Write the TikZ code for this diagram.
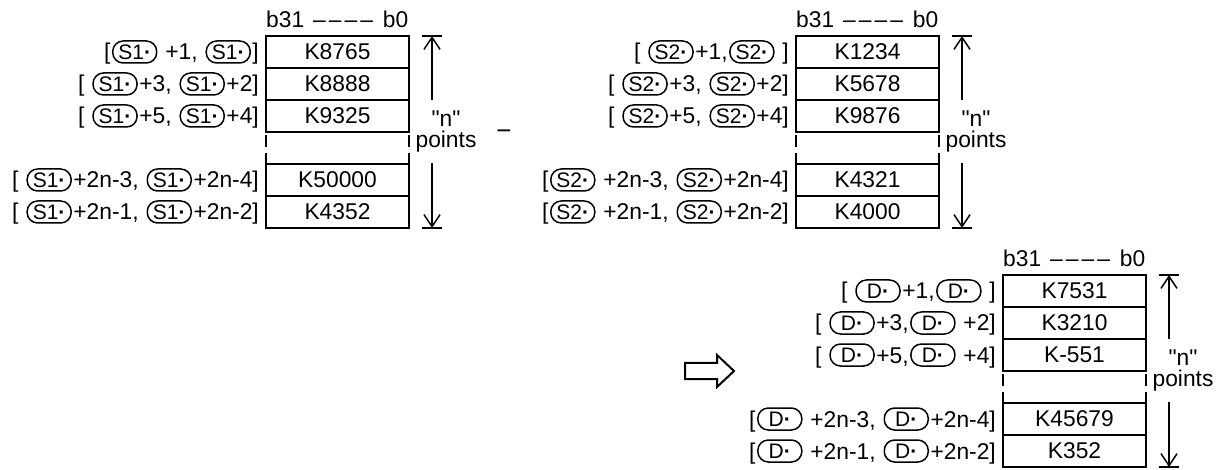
\documentclass[tikz,border=0pt]{standalone}
\usepackage{fontspec}
\setmainfont{Liberation Sans}
\newfontfamily\plainsans{Liberation Sans}
\usetikzlibrary{arrows.meta}
\tikzset{
  bigfont/.style={font=\fontsize{22.8}{26}\selectfont},
  cell/.style={draw, line width=1.6pt, minimum width=143pt, minimum height=32pt, inner sep=0pt, bigfont},
  lab/.style={anchor=base east, inner sep=0pt, bigfont},
  hdr/.style={anchor=base west, inner sep=0pt, bigfont},
  ntext/.style={anchor=center, inner sep=0pt, align=center, font=\plainsans\fontsize{22.8}{21}\selectfont},
  minustext/.style={anchor=base, inner sep=0pt, font=\fontsize{26}{26}\selectfont},
  pillbox/.style={draw, line width=1.5pt, rounded corners=10.5pt, minimum width=44pt, minimum height=22pt, inner sep=0pt, anchor=center},
  dimarrow/.style={line width=1.5pt, -{Straight Barb[length=12pt,width=16pt,line width=1.5pt]}},
  dimbar/.style={line width=1.5pt},
  gapline/.style={line width=1.6pt},
  hollow/.style={line width=2pt, line join=miter}
}
\newcommand\pill[1]{\kern1.5pt\relax\tikz[baseline={([yshift=-8pt]pl.center)}]\node[pillbox](pl){\fontsize{21}{21}\selectfont #1\textbf{·}};\kern1.5pt\relax}
\newcommand\hdrtext{b31\hspace{9pt}\textendash\hspace{3pt}\textendash\hspace{3pt}\textendash\hspace{3pt}\textendash\hspace{10pt}b0}
\begin{document}
\begin{tikzpicture}[x=1pt,y=-1pt]
\useasboundingbox (0,0) rectangle (1232,470);

% ---------- block S1 ----------
\begin{scope}[shift={(266,36)}]
  \node[hdr] (Ah) at (0,-8.5) {\hdrtext};
  \node[cell] (A1) at (71.5,16) {K8765};
  \node[cell] (A2) at (71.5,48) {K8888};
  \node[cell] (A3) at (71.5,80) {K9325};
  \node[cell] (A4) at (71.5,144) {K50000};
  \node[cell] (A5) at (71.5,176) {K4352};
  \draw[gapline] (0,99) -- (0,111) (0,117) -- (0,128);
  \draw[gapline] (143,99) -- (143,111) (143,117) -- (143,128);
  \node[lab] (Al1) at (-7,24) {[\pill{S1} +1, \pill{S1}]};
  \node[lab] (Al2) at (-7,56) {[ \pill{S1}+3, \pill{S1}+2]};
  \node[lab] (Al3) at (-7,88) {[ \pill{S1}+5, \pill{S1}+4]};
  \node[lab] (Al4) at (-7,152) {[ \pill{S1}+2n-3, \pill{S1}+2n-4]};
  \node[lab] (Al5) at (-7,184) {[ \pill{S1}+2n-1, \pill{S1}+2n-2]};
  \coordinate (Atop) at (166,0);
  \coordinate (Aup) at (166,64);
  \coordinate (Adn) at (166,127);
  \coordinate (Abot) at (166,192);
  \draw[dimarrow] (Aup) -- (Atop);
  \draw[dimarrow] (Adn) -- (Abot);
  \draw[dimbar] ([xshift=-10pt]Atop) -- ([xshift=10pt]Atop);
  \draw[dimbar] ([xshift=-10pt]Abot) -- ([xshift=10pt]Abot);
  \node[ntext] (An) at (180,95.3) {"n"\\points};
\end{scope}

% minus sign
\node[minustext] (minus) at (504,140) {−};

% ---------- block S2 ----------
\begin{scope}[shift={(796,36)}]
  \node[hdr] (Bh) at (0,-8.5) {\hdrtext};
  \node[cell] (B1) at (71.5,16) {K1234};
  \node[cell] (B2) at (71.5,48) {K5678};
  \node[cell] (B3) at (71.5,80) {K9876};
  \node[cell] (B4) at (71.5,144) {K4321};
  \node[cell] (B5) at (71.5,176) {K4000};
  \draw[gapline] (0,99) -- (0,111) (0,117) -- (0,128);
  \draw[gapline] (143,99) -- (143,111) (143,117) -- (143,128);
  \node[lab] (Bl1) at (-7,24) {[ \pill{S2}+1,\pill{S2} ]};
  \node[lab] (Bl2) at (-7,56) {[ \pill{S2}+3, \pill{S2}+2]};
  \node[lab] (Bl3) at (-7,88) {[ \pill{S2}+5, \pill{S2}+4]};
  \node[lab] (Bl4) at (-7,152) {[\pill{S2} +2n-3, \pill{S2}+2n-4]};
  \node[lab] (Bl5) at (-7,184) {[\pill{S2} +2n-1, \pill{S2}+2n-2]};
  \coordinate (Btop) at (166,0);
  \coordinate (Bup) at (166,64);
  \coordinate (Bdn) at (166,127);
  \coordinate (Bbot) at (166,192);
  \draw[dimarrow] (Bup) -- (Btop);
  \draw[dimarrow] (Bdn) -- (Bbot);
  \draw[dimbar] ([xshift=-10pt]Btop) -- ([xshift=10pt]Btop);
  \draw[dimbar] ([xshift=-10pt]Bbot) -- ([xshift=10pt]Bbot);
  \node[ntext] (Bn) at (180,95.3) {"n"\\points};
\end{scope}

% hollow arrow
\draw[hollow] (685,363) -- (717,363) -- (717,355) -- (734,371) -- (717,387) -- (717,379) -- (685,379) -- cycle;

% ---------- block D ----------
\begin{scope}[shift={(1003,275)}]
  \node[hdr] (Ch) at (0,-8.5) {\hdrtext};
  \node[cell] (C1) at (71.5,16) {K7531};
  \node[cell] (C2) at (71.5,48) {K3210};
  \node[cell] (C3) at (71.5,80) {K-551};
  \node[cell] (C4) at (71.5,144) {K45679};
  \node[cell] (C5) at (71.5,176) {K352};
  \draw[gapline] (0,99) -- (0,111) (0,117) -- (0,128);
  \draw[gapline] (143,99) -- (143,111) (143,117) -- (143,128);
  \node[lab] (Cl1) at (-7,24) {[ \pill{D}+1,\pill{D} ]};
  \node[lab] (Cl2) at (-7,56) {[ \pill{D}+3,\pill{D} +2]};
  \node[lab] (Cl3) at (-7,88) {[ \pill{D}+5,\pill{D} +4]};
  \node[lab] (Cl4) at (-7,152) {[\pill{D} +2n-3, \pill{D}+2n-4]};
  \node[lab] (Cl5) at (-7,184) {[\pill{D} +2n-1, \pill{D}+2n-2]};
  \coordinate (Ctop) at (166,0);
  \coordinate (Cup) at (166,64);
  \coordinate (Cdn) at (166,127);
  \coordinate (Cbot) at (166,192);
  \draw[dimarrow] (Cup) -- (Ctop);
  \draw[dimarrow] (Cdn) -- (Cbot);
  \draw[dimbar] ([xshift=-10pt]Ctop) -- ([xshift=10pt]Ctop);
  \draw[dimbar] ([xshift=-10pt]Cbot) -- ([xshift=10pt]Cbot);
  \node[ntext] (Cn) at (180,95.3) {"n"\\points};
\end{scope}
\end{tikzpicture}
\end{document}
